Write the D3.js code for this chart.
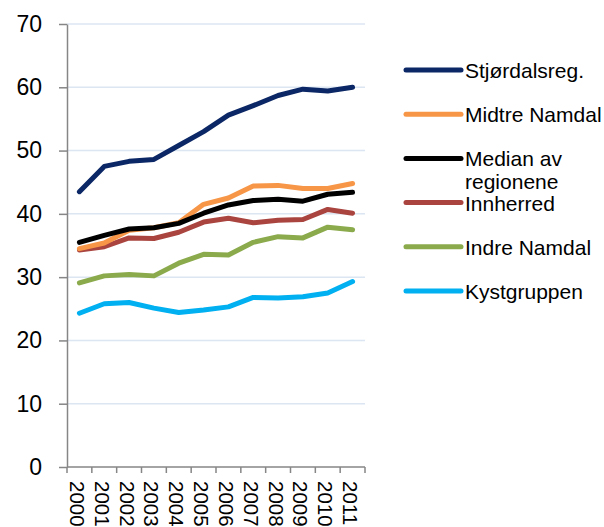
<!DOCTYPE html>
<html>
<head>
<meta charset="utf-8">
<script src="https://cdn.jsdelivr.net/npm/d3@7"></script>
<style>
  body { margin: 0; background: #fff; }
  text { font-family: "Liberation Sans", Arial, sans-serif; fill: #000; }
</style>
</head>
<body>
<svg id="chart"></svg>
<script>
const years = ['2000', '2001', '2002', '2003', '2004', '2005', '2006', '2007', '2008', '2009', '2010', '2011'];
const yTicks = [0, 10, 20, 30, 40, 50, 60, 70];

const stjordal = [43.5, 47.5, 48.3, 48.6, 50.8, 53.0, 55.6, 57.1, 58.7, 59.7, 59.4, 60.0];
const midtreNamdal = [34.5, 35.4, 37.4, 37.8, 38.6, 41.5, 42.5, 44.4, 44.5, 44.0, 44.0, 44.8];
const median = [35.5, 36.6, 37.6, 37.8, 38.5, 40.1, 41.4, 42.1, 42.3, 42.0, 43.1, 43.4];
const innherred = [34.3, 34.8, 36.2, 36.1, 37.1, 38.7, 39.3, 38.6, 39.0, 39.1, 40.7, 40.1];
const indreNamdal = [29.1, 30.2, 30.4, 30.2, 32.2, 33.6, 33.5, 35.5, 36.4, 36.2, 37.9, 37.5];
const kystgruppen = [24.3, 25.8, 26.0, 25.1, 24.4, 24.8, 25.3, 26.8, 26.7, 26.9, 27.5, 29.3];

const seriesNames = ['Stjørdalsreg.', 'Midtre Namdal', 'Median av\nregionene', 'Innherred', 'Indre Namdal', 'Kystgruppen'];
const seriesValues = [stjordal, midtreNamdal, median, innherred, indreNamdal, kystgruppen];
const seriesColors = ['#0b2765', '#f79646', '#000000', '#a9443f', '#8aaa4c', '#00b0f0'];
// draw order: back to front
const drawOrder = [5, 4, 3, 1, 2, 0];

const svg = d3.select('#chart').attr('width', 604).attr('height', 527);

const x = d3.scaleBand().domain(years).range([67, 365]);
const y = d3.scaleLinear().domain([0, 70]).range([467, 24]);

// grid
svg.append('g').selectAll('line')
  .data(yTicks.filter(d => d > 0))
  .enter()
  .append('line')
  .attr('x1', 67).attr('x2', 365)
  .attr('y1', d => y(d)).attr('y2', d => y(d))
  .attr('stroke', '#dce6f2')
  .attr('stroke-width', 1.5);

// y axis
const yAxis = svg.append('g')
  .attr('transform', 'translate(67,0)')
  .call(d3.axisLeft(y).tickValues(yTicks).tickSize(8).tickPadding(17).tickSizeOuter(0));
yAxis.select('.domain').attr('stroke', '#868686').attr('stroke-width', 1.5);
yAxis.selectAll('.tick line').attr('stroke', '#868686').attr('stroke-width', 1.5);
yAxis.selectAll('.tick text')
  .style('font-size', '23px')
  .style('font-family', '"Liberation Sans", Arial, sans-serif')
  .attr('fill', '#000');

// x axis
const xTickPos = years.map((d, i) => 67 + i * x.bandwidth()).concat([365]);
const xAxisG = svg.append('g');
xAxisG.append('line')
  .attr('x1', 67).attr('x2', 365).attr('y1', 467).attr('y2', 467)
  .attr('stroke', '#868686').attr('stroke-width', 1.5);
xAxisG.selectAll('line.tk')
  .data(xTickPos)
  .enter()
  .append('line')
  .attr('class', 'tk')
  .attr('x1', d => d).attr('x2', d => d)
  .attr('y1', 467).attr('y2', 473)
  .attr('stroke', '#868686').attr('stroke-width', 1.5);
xAxisG.selectAll('text')
  .data(years)
  .enter()
  .append('text')
  .attr('transform', d => `translate(${x(d) + x.bandwidth() / 2 - 2},481) rotate(90)`)
  .attr('dominant-baseline', 'central')
  .style('font-size', '20.5px')
  .text(d => d);

// lines
const line = d3.line()
  .x((d, i) => x(years[i]) + x.bandwidth() / 2)
  .y(d => y(d));

svg.append('g').selectAll('path')
  .data(drawOrder)
  .enter()
  .append('path')
  .attr('d', i => line(seriesValues[i]))
  .attr('fill', 'none')
  .attr('stroke', i => seriesColors[i])
  .attr('stroke-width', 5)
  .attr('stroke-linejoin', 'round')
  .attr('stroke-linecap', 'round');

// legend
const legend = svg.append('g').selectAll('g')
  .data(seriesNames)
  .enter()
  .append('g')
  .attr('transform', (d, i) => `translate(0,${70 + i * 44.2})`);
legend.append('line')
  .attr('x1', 406).attr('x2', 461)
  .attr('stroke', (d, i) => seriesColors[i])
  .attr('stroke-width', 5)
  .attr('stroke-linecap', 'round');
legend.append('text')
  .attr('x', 465)
  .attr('dominant-baseline', 'central')
  .style('font-size', '21px')
  .selectAll('tspan')
  .data(d => d.split('\n'))
  .enter()
  .append('tspan')
  .attr('x', 465)
  .attr('dy', (d, i) => i === 0 ? 0 : 23)
  .text(d => d);
</script>
</body>
</html>
